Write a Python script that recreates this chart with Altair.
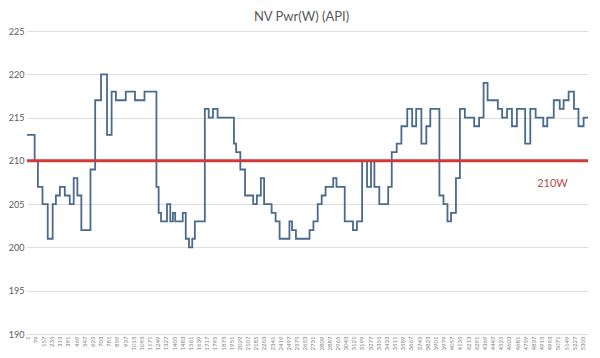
import altair as alt
import pandas as pd

# Step change points (sample index where a new value starts) and the values
seg_start = [1, 74, 105, 149, 199, 246, 277, 315, 362, 409, 447, 482, 520, 607, 652, 708, 765, 809, 850, 944,
             1032, 1123, 1237, 1258, 1281, 1338, 1369, 1394, 1416, 1488, 1517, 1548, 1579, 1604, 1699, 1736,
             1777, 1821, 1977, 1998, 2038, 2083, 2161, 2196, 2234, 2265, 2337, 2375, 2413, 2507, 2532, 2569,
             2699, 2736, 2777, 2815, 2852, 2925, 2956, 3035, 3114, 3151, 3201, 3248, 3286, 3318, 3365, 3450,
             3484, 3531, 3576, 3632, 3679, 3717, 3767, 3814, 3852, 3939, 3978, 4016, 4050, 4097, 4135, 4182,
             4271, 4318, 4361, 4399, 4497, 4538, 4585, 4632, 4679, 4758, 4807, 4858, 4931, 4969, 5031, 5088,
             5125, 5173, 5224, 5267, 5316]
seg_value = [213, 210, 207, 205, 201, 205, 206, 207, 206, 205, 208, 206, 202, 209, 217, 220, 213, 218, 217, 218,
             217, 218, 207, 204, 203, 205, 203, 204, 203, 204, 201, 200, 201, 203, 216, 215,
             216, 215, 212, 211, 209, 206, 205, 206, 208, 205, 204, 203, 201, 203, 202, 201,
             202, 203, 205, 206, 207, 208, 207, 203, 202, 203, 210, 207, 210, 207, 205, 207,
             211, 212, 214, 216, 214, 216, 212, 214, 216, 206, 205, 203, 204, 208, 216, 215,
             214, 215, 219, 217, 216, 215, 216, 214, 216, 212, 216, 215, 214, 215, 217, 216,
             217, 218, 216, 214, 215]
last_sample = 5358

x_tick_labels = list(range(1, 5306, 78))
y_ticks = [190, 195, 200, 205, 210, 215, 220, 225]
threshold = 210
threshold_label = "210W"
title_text = "NV Pwr(W) (API)"

df = pd.DataFrame({
    "sample": seg_start + [last_sample],
    "power": seg_value + [seg_value[-1]],
})

gray = "#595959"
grid = "#dedede"

x_enc = alt.X("sample:Q",
              scale=alt.Scale(domain=[1, last_sample], nice=False, zero=False),
              axis=alt.Axis(values=x_tick_labels, format="d", labelAngle=-90, labelAlign="right",
                            labelBaseline="middle", labelFontSize=6, labelColor="#7f7f7f",
                            labelOverlap=False, labelPadding=2, ticks=False, grid=False,
                            domainColor=grid, title=None, labelFont="Lato", labelBound=False,
                            labelFlush=False, labelSeparation=0))
y_enc = alt.Y("power:Q",
              scale=alt.Scale(domain=[190, 225], nice=False, zero=False),
              axis=alt.Axis(values=y_ticks, labelFontSize=9, labelColor=gray, labelPadding=3,
                            ticks=False, domain=False, gridColor=grid, gridWidth=1,
                            title=None, labelFont="Lato"))

line = alt.Chart(df).mark_line(interpolate="step-after", color="#4a6a8e", strokeWidth=1.8).encode(
    x=x_enc, y=y_enc)

rule = alt.Chart(pd.DataFrame({"power": [threshold]})).mark_rule(color="#cf3a3a", strokeWidth=3).encode(
    y=y_enc)

label = alt.Chart(pd.DataFrame({"sample": [5019], "power": [207.35], "t": [threshold_label]})).mark_text(
    color="#b54a48", fontSize=11, font="Lato", align="center", baseline="middle").encode(
    x=x_enc, y=y_enc, text="t:N")

chart = alt.layer(line, rule, label).properties(
    width=584, height=342,
    title=alt.TitleParams(title_text, fontSize=13, font="Lato", fontWeight="normal",
                          color=gray, offset=3, dx=-6, anchor="middle"),
    autosize=alt.AutoSizeParams(type="fit", contains="padding"),
    padding={"left": 0, "top": 3, "right": 0, "bottom": 0},
).configure_view(stroke=None).configure_axis(labelOverlap=False)

chart.save("out.html", embed_options={"renderer": "svg", "actions": False})
